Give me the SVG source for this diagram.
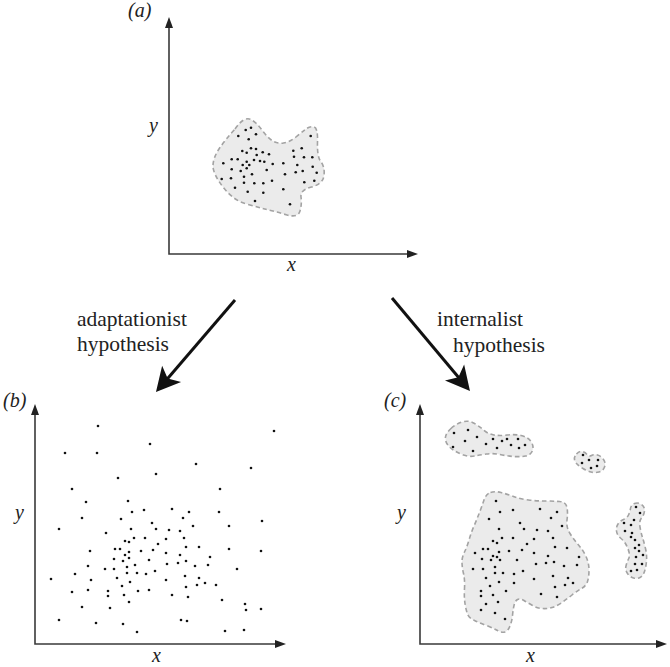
<svg xmlns="http://www.w3.org/2000/svg" width="670" height="667" viewBox="0 0 670 667">
<style>
.ax{fill:none;stroke:#3a3a3a;stroke-width:1.6;marker-start:url(#ah);marker-end:url(#ah)}
.blob{fill:#ebebeb;stroke:#a3a3a3;stroke-width:1.6;stroke-dasharray:4.5 3}
.d circle{fill:#111}
.lab{font-style:italic;font-size:20px;fill:#222}
.txt{font-size:21.5px;fill:#222}
.conn{stroke:#111;stroke-width:3;fill:none;marker-end:url(#big)}
</style>
<defs>
<marker id="ah" viewBox="-12 -5 13 10" refX="-10" refY="0" markerWidth="13" markerHeight="10" markerUnits="userSpaceOnUse" orient="auto-start-reverse">
<path d="M0,0 L-11,-4 L-11,4 Z" fill="#222"/>
</marker>
<marker id="big" viewBox="-26 -14 27 28" refX="-16" refY="0" markerWidth="27" markerHeight="28" markerUnits="userSpaceOnUse" orient="auto">
<path d="M0,0 L-24,-12.5 L-18,0 L-24,12.5 Z" fill="#111"/>
</marker>
</defs>

<g id="panel-a">
<path class="ax" d="M169,27 L169,254 L408,254"/>
<text class="lab" font-family="Liberation Serif, DejaVu Serif, serif" x="128" y="17">(a)</text>
<text class="lab" font-family="Liberation Serif, DejaVu Serif, serif" x="149" y="132">y</text>
<text class="lab" font-family="Liberation Serif, DejaVu Serif, serif" x="287" y="271">x</text>
<path class="blob" d="M235,129 Q244,116 251,119.5 Q257,123 262,130 Q267,137 272,140.5 Q277,144 283.5,143 Q290,142 296,137 Q302,132 306,129 Q310,126 313.5,127 Q318,127 317.5,142 Q317,157 321,162 Q325,167 324,175.5 Q323,184 311.5,187 Q300,190 301,197 Q302,204 300,211 Q298,218 287,215 Q277,212 267,209.5 Q257,207 245,203.5 Q233,200 223,187 Q213,174 213,166 Q213,158 219,149 Q225,140 235,129 Z"/>
<g class="d">
<circle cx="245.7" cy="130" r="1.3"/><circle cx="251" cy="127.7" r="1.3"/><circle cx="256" cy="134.3" r="1.3"/><circle cx="238.3" cy="136" r="1.3"/><circle cx="248.7" cy="139.3" r="1.3"/><circle cx="242.3" cy="151" r="1.3"/><circle cx="246.7" cy="152.7" r="1.3"/><circle cx="251" cy="148.3" r="1.3"/><circle cx="256" cy="149" r="1.3"/><circle cx="262.7" cy="152.3" r="1.3"/><circle cx="269" cy="154.3" r="1.3"/><circle cx="256.7" cy="155" r="1.3"/><circle cx="231.7" cy="159.3" r="1.3"/><circle cx="237.7" cy="159.3" r="1.3"/><circle cx="246.7" cy="161.7" r="1.3"/><circle cx="254" cy="160" r="1.3"/><circle cx="260" cy="161" r="1.3"/><circle cx="264.3" cy="161.7" r="1.3"/><circle cx="223.3" cy="163.3" r="1.3"/><circle cx="242.7" cy="165" r="1.3"/><circle cx="249.3" cy="165" r="1.3"/><circle cx="272.7" cy="164" r="1.3"/><circle cx="283.3" cy="163.3" r="1.3"/><circle cx="293.3" cy="150.7" r="1.3"/><circle cx="301.7" cy="148.3" r="1.3"/><circle cx="294" cy="156.7" r="1.3"/><circle cx="304" cy="157.3" r="1.3"/><circle cx="312.3" cy="157.3" r="1.3"/><circle cx="297.3" cy="165" r="1.3"/><circle cx="231.7" cy="169.3" r="1.3"/><circle cx="240.7" cy="171" r="1.3"/><circle cx="246.7" cy="168.3" r="1.3"/><circle cx="252" cy="174.3" r="1.3"/><circle cx="266.7" cy="170" r="1.3"/><circle cx="285" cy="174.3" r="1.3"/><circle cx="295.7" cy="172.3" r="1.3"/><circle cx="302.7" cy="171" r="1.3"/><circle cx="312.7" cy="166.7" r="1.3"/><circle cx="316.7" cy="172.7" r="1.3"/><circle cx="221.7" cy="179" r="1.3"/><circle cx="231" cy="178.3" r="1.3"/><circle cx="244" cy="176.7" r="1.3"/><circle cx="244" cy="182.7" r="1.3"/><circle cx="254.3" cy="183.3" r="1.3"/><circle cx="263.3" cy="183.3" r="1.3"/><circle cx="272" cy="180.7" r="1.3"/><circle cx="235" cy="187.7" r="1.3"/><circle cx="247.7" cy="191.7" r="1.3"/><circle cx="263.3" cy="192.7" r="1.3"/><circle cx="283.3" cy="189.3" r="1.3"/><circle cx="304.3" cy="182.3" r="1.3"/><circle cx="314.3" cy="180.7" r="1.3"/><circle cx="255" cy="201" r="1.3"/><circle cx="290" cy="204.3" r="1.3"/><circle cx="310.7" cy="136" r="1.3"/>
</g>
</g>

<g id="panel-b">
<path class="ax" d="M35,414 L35,644 L276,644"/>
<text class="lab" font-family="Liberation Serif, DejaVu Serif, serif" x="3" y="407">(b)</text>
<text class="lab" font-family="Liberation Serif, DejaVu Serif, serif" x="15" y="519">y</text>
<text class="lab" font-family="Liberation Serif, DejaVu Serif, serif" x="152" y="662">x</text>
<g class="d">
<circle cx="98" cy="426" r="1.3"/><circle cx="274" cy="431" r="1.3"/><circle cx="65" cy="453" r="1.3"/><circle cx="97" cy="453" r="1.3"/><circle cx="150" cy="444" r="1.3"/><circle cx="196" cy="464" r="1.3"/><circle cx="251" cy="468" r="1.3"/><circle cx="156" cy="474" r="1.3"/><circle cx="118" cy="478" r="1.3"/><circle cx="72" cy="489" r="1.3"/><circle cx="220" cy="489" r="1.3"/><circle cx="86" cy="502" r="1.3"/><circle cx="128" cy="501" r="1.3"/><circle cx="82" cy="518" r="1.3"/><circle cx="132" cy="512" r="1.3"/><circle cx="144" cy="510" r="1.3"/><circle cx="172" cy="509" r="1.3"/><circle cx="189" cy="512" r="1.3"/><circle cx="183" cy="518" r="1.3"/><circle cx="219" cy="512" r="1.3"/><circle cx="262" cy="521" r="1.3"/><circle cx="59" cy="529" r="1.3"/><circle cx="121" cy="519" r="1.3"/><circle cx="106" cy="533" r="1.3"/><circle cx="131" cy="529" r="1.3"/><circle cx="152" cy="523" r="1.3"/><circle cx="156" cy="529" r="1.3"/><circle cx="169" cy="530" r="1.3"/><circle cx="180" cy="531" r="1.3"/><circle cx="193" cy="526" r="1.3"/><circle cx="229" cy="526" r="1.3"/><circle cx="125" cy="541" r="1.3"/><circle cx="129" cy="542" r="1.3"/><circle cx="134" cy="538" r="1.3"/><circle cx="145" cy="538" r="1.3"/><circle cx="166" cy="539" r="1.3"/><circle cx="184" cy="538" r="1.3"/><circle cx="158" cy="544" r="1.3"/>
<circle cx="186" cy="547" r="1.3"/><circle cx="199" cy="547" r="1.3"/><circle cx="229" cy="549" r="1.3"/><circle cx="261" cy="551" r="1.3"/><circle cx="90" cy="551" r="1.3"/><circle cx="115" cy="549" r="1.3"/><circle cx="120" cy="549" r="1.3"/><circle cx="153" cy="550" r="1.3"/><circle cx="141" cy="551" r="1.3"/><circle cx="129" cy="552" r="1.3"/><circle cx="125" cy="555" r="1.3"/><circle cx="129" cy="558" r="1.3"/><circle cx="166" cy="553" r="1.3"/><circle cx="180" cy="555" r="1.3"/><circle cx="210" cy="557" r="1.3"/><circle cx="114" cy="559" r="1.3"/><circle cx="123" cy="561" r="1.3"/><circle cx="186" cy="561" r="1.3"/><circle cx="88" cy="566" r="1.3"/><circle cx="105" cy="569" r="1.3"/><circle cx="114" cy="569" r="1.3"/><circle cx="127" cy="567" r="1.3"/><circle cx="135" cy="565" r="1.3"/><circle cx="149" cy="560" r="1.3"/><circle cx="167" cy="564" r="1.3"/><circle cx="178" cy="563" r="1.3"/><circle cx="195" cy="566" r="1.3"/><circle cx="208" cy="565" r="1.3"/><circle cx="237" cy="569" r="1.3"/><circle cx="75" cy="574" r="1.3"/><circle cx="127" cy="573" r="1.3"/><circle cx="137" cy="573" r="1.3"/><circle cx="146" cy="574" r="1.3"/><circle cx="155" cy="571" r="1.3"/><circle cx="51" cy="579" r="1.3"/><circle cx="91" cy="580" r="1.3"/><circle cx="117" cy="578" r="1.3"/><circle cx="130" cy="582" r="1.3"/><circle cx="166" cy="580" r="1.3"/><circle cx="185" cy="576" r="1.3"/><circle cx="199" cy="578" r="1.3"/><circle cx="205" cy="583" r="1.3"/><circle cx="216" cy="585" r="1.3"/><circle cx="197" cy="585" r="1.3"/><circle cx="186" cy="587" r="1.3"/><circle cx="122" cy="586" r="1.3"/><circle cx="72" cy="592" r="1.3"/><circle cx="88" cy="590" r="1.3"/><circle cx="108" cy="591" r="1.3"/><circle cx="108" cy="596" r="1.3"/><circle cx="124" cy="595" r="1.3"/><circle cx="138" cy="591" r="1.3"/><circle cx="149" cy="590" r="1.3"/><circle cx="172" cy="595" r="1.3"/><circle cx="188" cy="597" r="1.3"/><circle cx="222" cy="600" r="1.3"/><circle cx="129" cy="602" r="1.3"/><circle cx="245" cy="604" r="1.3"/><circle cx="246" cy="610" r="1.3"/><circle cx="261" cy="609" r="1.3"/><circle cx="82" cy="607" r="1.3"/><circle cx="110" cy="608" r="1.3"/><circle cx="59" cy="620" r="1.3"/><circle cx="96" cy="623" r="1.3"/><circle cx="123" cy="624" r="1.3"/><circle cx="181" cy="620" r="1.3"/><circle cx="187" cy="621" r="1.3"/><circle cx="137" cy="632" r="1.3"/><circle cx="225" cy="631" r="1.3"/><circle cx="244" cy="630" r="1.3"/>
</g>
</g>

<g id="panel-c">
<path class="ax" d="M420,414 L420,644 L657,644"/>
<text class="lab" font-family="Liberation Serif, DejaVu Serif, serif" x="384" y="407">(c)</text>
<text class="lab" font-family="Liberation Serif, DejaVu Serif, serif" x="397" y="519">y</text>
<text class="lab" font-family="Liberation Serif, DejaVu Serif, serif" x="526" y="662">x</text>
<path class="blob" d="M451,428.5 Q456,424 462,422 Q468,420 473.5,423 Q479,426 483.5,430 Q488,434 494,435 Q500,436 507,435 Q514,434 521,435.5 Q528,437 531,441.5 Q534,446 532.5,450.5 Q531,455 525.5,456 Q520,457 513.5,456.5 Q507,456 500,454.5 Q493,453 486.5,454 Q480,455 474.5,456 Q469,457 463.5,455 Q458,453 454,450.5 Q450,448 447.5,444.5 Q445,441 445.5,437 Q446,433 451,428.5 Z"/>
<path class="blob" d="M576.5,454 Q579,451 582,451.5 Q585,452 587,454.5 Q589,457 591.5,455.5 Q594,454 597.5,455 Q601,456 603.5,459.5 Q606,463 604.5,467 Q603,471 599,472 Q595,473 591,472 Q587,471 583,468.5 Q579,466 577,464 Q575,462 574.5,459.5 Q574,457 576.5,454 Z"/>
<path class="blob" d="M490.5,492.5 Q495,491 501,492.5 Q507,494 513.5,496.5 Q520,499 528.5,500 Q537,501 545,501 Q553,501 559.5,501.5 Q566,502 567,507.5 Q568,513 567,520 Q566,527 570,533.5 Q574,540 578.5,545 Q583,550 586,556.5 Q589,563 589,570 Q589,577 587.5,581.5 Q586,586 581.5,588.5 Q577,591 572,595 Q567,599 562,602.5 Q557,606 552,607.5 Q547,609 542,608.5 Q537,608 532.5,605.5 Q528,603 524,600.5 Q520,598 517.5,599.5 Q515,601 514,605.5 Q513,610 512.5,615.5 Q512,621 510,626 Q508,631 505,632 Q502,633 497.5,630.5 Q493,628 486.5,625.5 Q480,623 474.5,620.5 Q469,618 467.5,614 Q466,610 465,603.5 Q464,597 464.5,588.5 Q465,580 463.5,573.5 Q462,567 462,562 Q462,557 464.5,552 Q467,547 469,540 Q471,533 474,526 Q477,519 479.5,512.5 Q482,506 484,500 Q486,494 490.5,492.5 Z"/>
<path class="blob" d="M634.5,503.5 Q638,502 641.5,504.5 Q645,507 644.5,511 Q644,515 641.5,518 Q639,521 640,527 Q641,533 642.5,537.5 Q644,542 645.5,548.5 Q647,555 646.5,561 Q646,567 644.5,571.5 Q643,576 640,577.5 Q637,579 633.5,578 Q630,577 627.5,573.5 Q625,570 626,566 Q627,562 628.5,559 Q630,556 629,552 Q628,548 626,544.5 Q624,541 620.5,538 Q617,535 616.5,531 Q616,527 618,524 Q620,521 623.5,519.5 Q627,518 628.5,515 Q630,512 630.5,508.5 Q631,505 634.5,503.5 Z"/>
<g class="d">
<circle cx="454" cy="433" r="1.3"/><circle cx="468" cy="430" r="1.3"/><circle cx="477" cy="437" r="1.3"/><circle cx="465" cy="441" r="1.3"/><circle cx="486" cy="444" r="1.3"/><circle cx="493" cy="439" r="1.3"/><circle cx="502" cy="441" r="1.3"/><circle cx="497" cy="448" r="1.3"/><circle cx="507" cy="439" r="1.3"/><circle cx="511" cy="445" r="1.3"/><circle cx="518" cy="439" r="1.3"/><circle cx="519" cy="448" r="1.3"/><circle cx="525" cy="445" r="1.3"/><circle cx="473" cy="451" r="1.3"/><circle cx="453" cy="447" r="1.3"/>
<circle cx="583" cy="455" r="1.3"/><circle cx="589" cy="460" r="1.3"/><circle cx="598" cy="460" r="1.3"/><circle cx="582" cy="463" r="1.3"/><circle cx="591" cy="468" r="1.3"/><circle cx="597" cy="466" r="1.3"/>
<circle cx="496" cy="501" r="1.3"/><circle cx="500" cy="512" r="1.3"/><circle cx="513" cy="510" r="1.3"/><circle cx="540" cy="509" r="1.3"/><circle cx="557" cy="512" r="1.3"/><circle cx="489" cy="519" r="1.3"/><circle cx="551" cy="518" r="1.3"/><circle cx="520" cy="523" r="1.3"/><circle cx="562" cy="526" r="1.3"/><circle cx="499" cy="529" r="1.3"/><circle cx="524" cy="529" r="1.3"/><circle cx="537" cy="530" r="1.3"/><circle cx="548" cy="531" r="1.3"/><circle cx="493" cy="541" r="1.3"/><circle cx="502" cy="538" r="1.3"/><circle cx="513" cy="538" r="1.3"/><circle cx="534" cy="539" r="1.3"/><circle cx="553" cy="538" r="1.3"/><circle cx="497" cy="543" r="1.3"/><circle cx="527" cy="544" r="1.3"/><circle cx="483" cy="549" r="1.3"/><circle cx="488" cy="549" r="1.3"/><circle cx="522" cy="550" r="1.3"/><circle cx="555" cy="547" r="1.3"/><circle cx="567" cy="548" r="1.3"/>
<circle cx="475" cy="553" r="1.3"/><circle cx="499" cy="552" r="1.3"/><circle cx="493" cy="556" r="1.3"/><circle cx="497" cy="557" r="1.3"/><circle cx="509" cy="551" r="1.3"/><circle cx="534" cy="553" r="1.3"/><circle cx="548" cy="556" r="1.3"/><circle cx="579" cy="557" r="1.3"/><circle cx="482" cy="559" r="1.3"/><circle cx="491" cy="560" r="1.3"/><circle cx="500" cy="560" r="1.3"/><circle cx="517" cy="560" r="1.3"/><circle cx="536" cy="564" r="1.3"/><circle cx="546" cy="563" r="1.3"/><circle cx="554" cy="562" r="1.3"/><circle cx="564" cy="566" r="1.3"/><circle cx="577" cy="565" r="1.3"/><circle cx="473" cy="569" r="1.3"/><circle cx="483" cy="569" r="1.3"/><circle cx="495" cy="567" r="1.3"/><circle cx="503" cy="573" r="1.3"/><circle cx="514" cy="574" r="1.3"/><circle cx="523" cy="571" r="1.3"/><circle cx="495" cy="573" r="1.3"/><circle cx="486" cy="578" r="1.3"/><circle cx="534" cy="579" r="1.3"/><circle cx="553" cy="576" r="1.3"/><circle cx="568" cy="578" r="1.3"/><circle cx="499" cy="582" r="1.3"/><circle cx="514" cy="583" r="1.3"/><circle cx="490" cy="586" r="1.3"/><circle cx="555" cy="587" r="1.3"/><circle cx="565" cy="585" r="1.3"/><circle cx="573" cy="583" r="1.3"/><circle cx="481" cy="591" r="1.3"/><circle cx="506" cy="591" r="1.3"/><circle cx="481" cy="596" r="1.3"/><circle cx="493" cy="595" r="1.3"/><circle cx="541" cy="594" r="1.3"/><circle cx="557" cy="597" r="1.3"/><circle cx="486" cy="604" r="1.3"/><circle cx="498" cy="602" r="1.3"/><circle cx="481" cy="610" r="1.3"/><circle cx="495" cy="613" r="1.3"/><circle cx="505" cy="619" r="1.3"/>
<circle cx="636" cy="507" r="1.3"/><circle cx="640" cy="513" r="1.3"/><circle cx="634" cy="520" r="1.3"/><circle cx="624" cy="523" r="1.3"/><circle cx="631" cy="525" r="1.3"/><circle cx="625" cy="531" r="1.3"/><circle cx="632" cy="533" r="1.3"/><circle cx="631" cy="537" r="1.3"/><circle cx="635" cy="540" r="1.3"/><circle cx="635" cy="548" r="1.3"/><circle cx="639" cy="545" r="1.3"/><circle cx="639" cy="551" r="1.3"/><circle cx="643" cy="555" r="1.3"/><circle cx="636" cy="557" r="1.3"/><circle cx="635" cy="564" r="1.3"/><circle cx="642" cy="564" r="1.3"/><circle cx="631" cy="571" r="1.3"/><circle cx="637" cy="570" r="1.3"/>
</g>
</g>

<g id="connectors">
<line class="conn" x1="235" y1="300" x2="166.4" y2="379.9"/>
<line class="conn" x1="392" y1="298" x2="459.7" y2="378.7"/>
<text class="txt" font-family="Liberation Serif, DejaVu Serif, serif" x="77" y="326">adaptationist</text>
<text class="txt" font-family="Liberation Serif, DejaVu Serif, serif" x="77" y="351">hypothesis</text>
<text class="txt" font-family="Liberation Serif, DejaVu Serif, serif" x="437" y="326">internalist</text>
<text class="txt" font-family="Liberation Serif, DejaVu Serif, serif" x="453" y="352">hypothesis</text>
</g>
</svg>
